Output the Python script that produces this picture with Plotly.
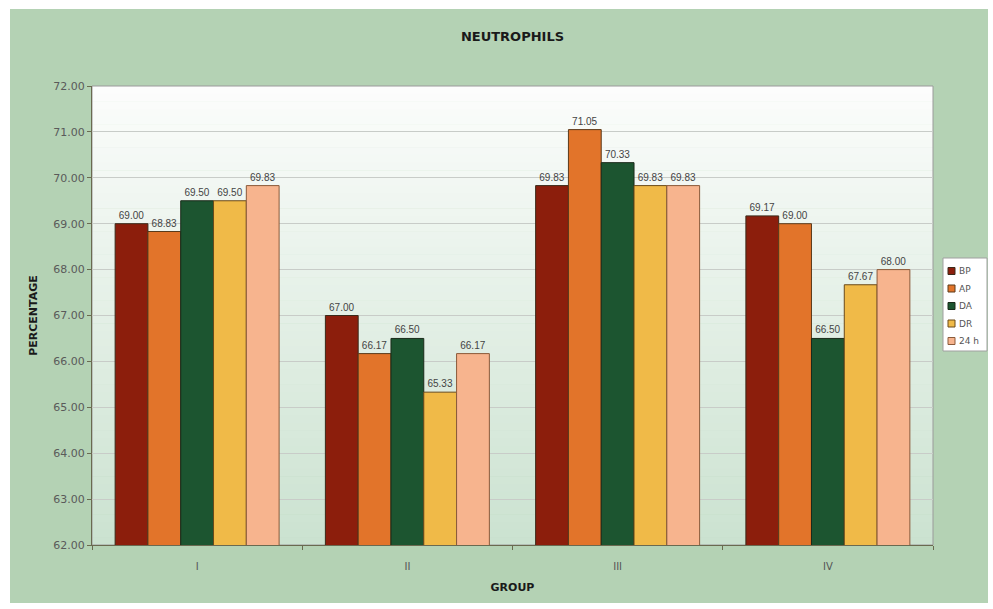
import plotly.graph_objects as go

# Neutrophil percentages per group and sampling time
groups = ["I", "II", "III", "IV"]
series_names = ["BP", "AP", "DA", "DR", "24 h"]
bp = [69.00, 67.00, 69.83, 69.17]
ap = [68.83, 66.17, 71.05, 69.00]
da = [69.50, 66.50, 70.33, 66.50]
dr = [69.50, 65.33, 69.83, 67.67]
h24 = [69.83, 66.17, 69.83, 68.00]
y_ticks = [62, 63, 64, 65, 66, 67, 68, 69, 70, 71, 72]

series_values = [bp, ap, da, dr, h24]
colors = ["#8c1e0c", "#e2742a", "#1c5530", "#f0ba48", "#f7b48e"]
outlines = ["#3a2a1a", "#5a3a1a", "#1a2a1a", "#6a4a1a", "#8a5a3a"]

W, H = 993, 609
L, R, T, B = 92, 60, 86, 64
pw, ph = W - L - R, H - T - B

fig = go.Figure()
for name, vals, c, oc in zip(series_names, series_values, colors, outlines):
    fig.add_trace(go.Bar(
        x=groups, y=vals, name=name,
        marker=dict(color=c, line=dict(color=oc, width=1)),
        text=[f"{v:.2f}" for v in vals],
        textposition="outside", constraintext="none", cliponaxis=False,
        textfont=dict(family="Liberation Sans, Arial", size=10, color="#444444"),
        showlegend=False,
    ))


def px_to_paper_x(px):
    return (px - L) / pw


def px_to_paper_y(py):
    return (H - B - py) / ph


shapes = []
annotations = []
# green chart frame behind everything
shapes.append(dict(
    type="rect", xref="paper", yref="paper", layer="below",
    x0=px_to_paper_x(10), x1=px_to_paper_x(988),
    y0=px_to_paper_y(603), y1=px_to_paper_y(9),
    fillcolor="#b4d2b4", line=dict(width=0),
))
# vertical white-to-green gradient for the plot area
n = 60
top = (252, 253, 252)
bot = (203, 226, 208)
for i in range(n):
    t = (i + 0.5) / n
    col = tuple(round(top[k] + (bot[k] - top[k]) * t) for k in range(3))
    shapes.append(dict(
        type="rect", xref="paper", yref="paper", layer="below",
        x0=0, x1=1, y0=1 - (i + 1) / n - 0.001, y1=1 - i / n,
        fillcolor=f"rgb{col}", line=dict(width=0),
    ))
# thin plot area border
shapes.append(dict(
    type="rect", xref="paper", yref="paper", layer="below",
    x0=0, x1=1, y0=0, y1=1, line=dict(color="#9a9a9a", width=1),
))

# compact legend box on the right
lg_left, lg_right, lg_top, lg_bottom = 943, 987, 258, 351
shapes.append(dict(
    type="rect", xref="paper", yref="paper", layer="above",
    x0=px_to_paper_x(lg_left), x1=px_to_paper_x(lg_right),
    y0=px_to_paper_y(lg_bottom), y1=px_to_paper_y(lg_top),
    fillcolor="white", line=dict(color="#a0a0a0", width=1),
))
row_gap = 17.5
for i, (name, c, oc) in enumerate(zip(series_names, colors, outlines)):
    cy = lg_top + 13 + i * row_gap
    shapes.append(dict(
        type="rect", xref="paper", yref="paper", layer="above",
        x0=px_to_paper_x(948), x1=px_to_paper_x(955),
        y0=px_to_paper_y(cy + 3.5), y1=px_to_paper_y(cy - 3.5),
        fillcolor=c, line=dict(color=oc, width=1),
    ))
    annotations.append(dict(
        xref="paper", yref="paper", x=px_to_paper_x(957), y=px_to_paper_y(cy),
        xanchor="left", yanchor="middle", showarrow=False, text=name,
        font=dict(family="DejaVu Sans", size=9, color="#555555"),
    ))

fig.update_layout(
    width=W, height=H,
    margin=dict(l=L, r=R, t=T, b=B, autoexpand=False),
    paper_bgcolor="white",
    plot_bgcolor="rgba(0,0,0,0)",
    barmode="group", bargap=0.22, bargroupgap=0,
    font=dict(family="DejaVu Sans", size=10, color="#4a4a4a"),
    title=dict(
        text="<b>NEUTROPHILS</b>", x=0.5, xref="paper", xanchor="center",
        y=1 - 36 / H, yref="container", yanchor="middle",
        font=dict(family="DejaVu Sans", size=13, color="#1a1a1a"),
    ),
    shapes=shapes,
    annotations=annotations,
    showlegend=False,
)

fig.update_xaxes(
    type="category",
    showline=True, linecolor="#6a6a50", linewidth=1,
    ticks="outside", tickson="boundaries", ticklen=4, tickcolor="#6a6a50",
    ticklabelstandoff=12,
    tickfont=dict(family="DejaVu Sans", size=10, color="#555555"),
    title=dict(text="<b>GROUP</b>", standoff=12,
               font=dict(family="DejaVu Sans", size=11, color="#1a1a1a")),
    showgrid=False,
)
fig.update_yaxes(
    range=[62, 72],
    tickvals=y_ticks,
    ticktext=[f"{v:.2f}" for v in y_ticks],
    showline=True, linecolor="#6a6a50", linewidth=1,
    ticks="outside", ticklen=4, tickcolor="#6a6a50",
    showgrid=True, gridcolor="#c8ccc8", gridwidth=1,
    tickfont=dict(family="DejaVu Sans", size=11, color="#5a5a5a"),
    title=dict(text="<b>PERCENTAGE</b>", standoff=13,
               font=dict(family="DejaVu Sans", size=11, color="#1a1a1a")),
    zeroline=False,
)

fig.write_html("out.html")
